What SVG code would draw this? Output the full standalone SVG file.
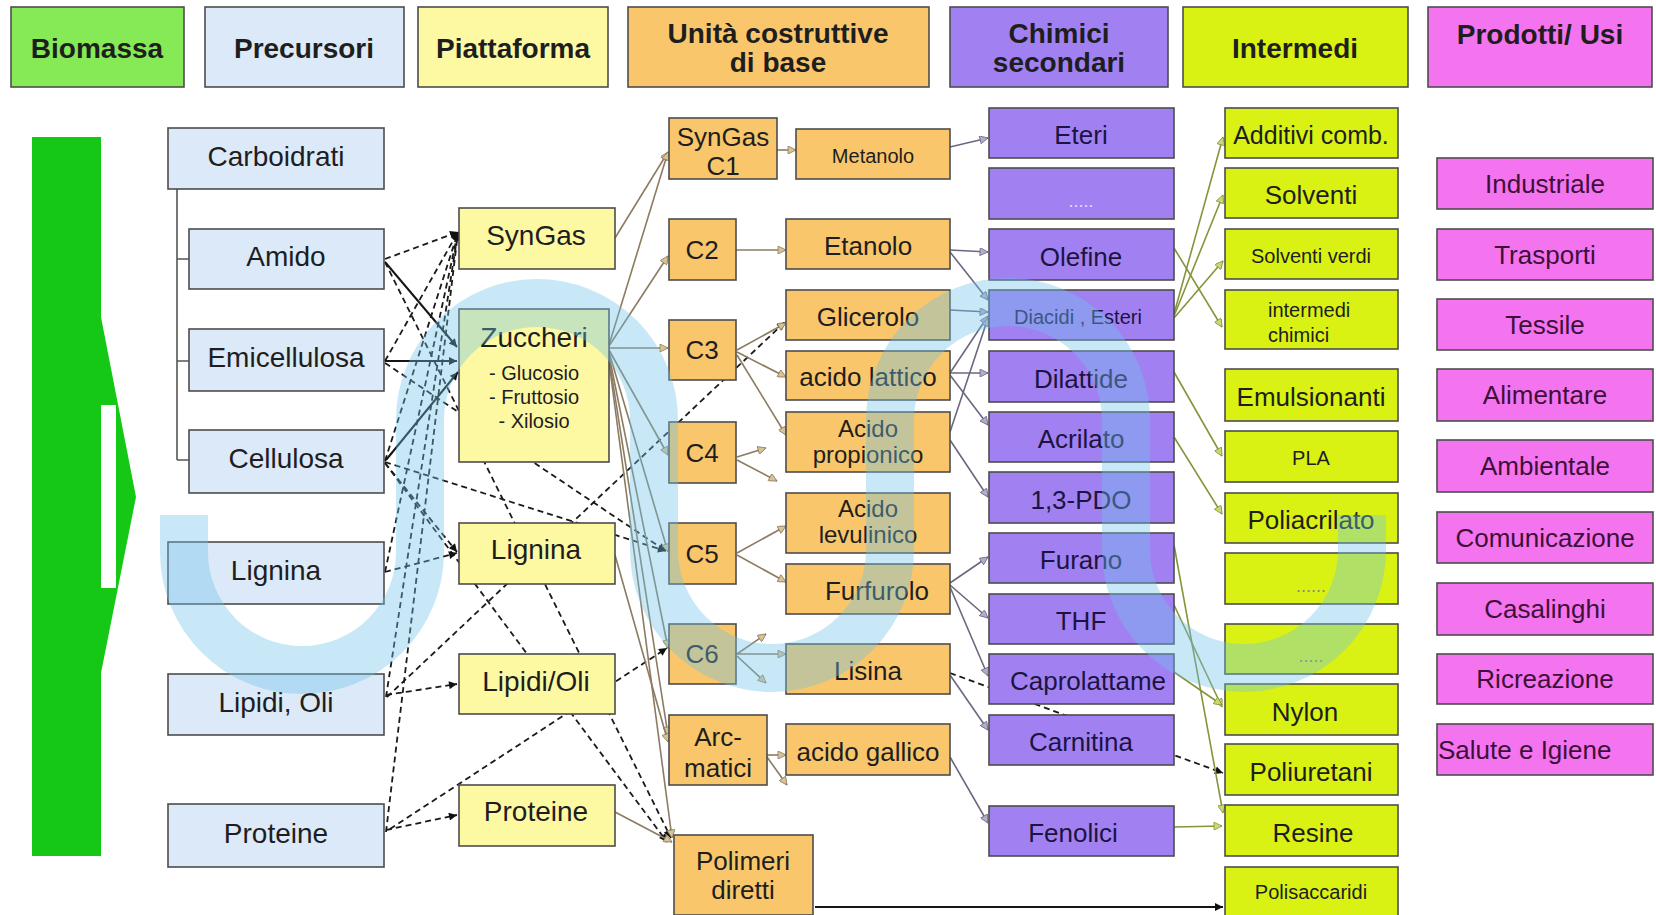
<svg xmlns="http://www.w3.org/2000/svg" width="1656" height="915" viewBox="0 0 1656 915">
<style>
  .bx { stroke: #4d4d4d; stroke-width: 1.6; }
  .hb { fill: #85ea56; }
  .pre { fill: #dce9f8; }
  .pla { fill: #fdf8a2; }
  .uni { fill: #f9c66b; }
  .chi { fill: #a181f2; }
  .int { fill: #d9f214; }
  .pro { fill: #f474f0; }
  text { font-family: "Liberation Sans", Arial, sans-serif; text-anchor: middle; fill: #1e1e1e; font-size: 26px; }
  .h { font-weight: bold; font-size: 28px; }
  .l { font-size: 28px; }
  .m { font-size: 24px; }
  .s { font-size: 20px; }
  .dots { font-size: 18px; fill: #8c8c6e; }
  .dotsp { font-size: 18px; fill: #e2dafa; }
  .tc { fill: #1c1440; }
  .tp { fill: #3e1038; }
  .k { stroke: #151515; stroke-width: 2; fill: none; marker-end: url(#mk); }
  .kd { stroke: #1a1a1a; stroke-width: 1.8; fill: none; stroke-dasharray: 6 4; marker-end: url(#mk); }
  .br { stroke: #8c7b60; stroke-width: 1.6; fill: none; marker-end: url(#mbr); }
  .pu { stroke: #6d6680; stroke-width: 1.6; fill: none; marker-end: url(#mpu); }
  .ol { stroke: #86943a; stroke-width: 1.6; fill: none; marker-end: url(#mol); }
  .wm { stroke: rgb(110,195,235); stroke-width: 48; fill: none; opacity: 0.38; }
</style>
<defs>
  <marker id="mk" viewBox="0 0 10 10" refX="10" refY="5" markerWidth="10" markerHeight="8" markerUnits="userSpaceOnUse" orient="auto">
    <path d="M0,0 L10,5 L0,10 z" fill="#111"/>
  </marker>
  <marker id="mbr" viewBox="0 0 10 10" refX="10" refY="5" markerWidth="10" markerHeight="8" markerUnits="userSpaceOnUse" orient="auto">
    <path d="M0,0 L10,5 L0,10 z" fill="#d9c394" stroke="#8c7b60" stroke-width="1"/>
  </marker>
  <marker id="mpu" viewBox="0 0 10 10" refX="10" refY="5" markerWidth="10" markerHeight="8" markerUnits="userSpaceOnUse" orient="auto">
    <path d="M0,0 L10,5 L0,10 z" fill="#b4accb" stroke="#6d6680" stroke-width="1"/>
  </marker>
  <marker id="mol" viewBox="0 0 10 10" refX="10" refY="5" markerWidth="10" markerHeight="8" markerUnits="userSpaceOnUse" orient="auto">
    <path d="M0,0 L10,5 L0,10 z" fill="#cbd872" stroke="#86943a" stroke-width="1"/>
  </marker>
</defs>
<rect width="1656" height="915" fill="#ffffff"/>

<!-- column headers -->
<g id="headers">
  <rect class="bx hb" x="11" y="7" width="173" height="80"/>
  <text class="h" x="97" y="58">Biomassa</text>
  <rect class="bx pre" x="205" y="7" width="199" height="80"/>
  <text class="h" x="304" y="58">Precursori</text>
  <rect class="bx pla" x="418" y="7" width="190" height="80"/>
  <text class="h" x="513" y="58">Piattaforma</text>
  <rect class="bx uni" x="628" y="7" width="301" height="80"/>
  <text class="h" x="778" y="43">Unità costruttive</text>
  <text class="h" x="778" y="72">di base</text>
  <rect class="bx chi" x="950" y="7" width="218" height="80"/>
  <text class="h" x="1059" y="43">Chimici</text>
  <text class="h" x="1059" y="72">secondari</text>
  <rect class="bx int" x="1183" y="7" width="225" height="80"/>
  <text class="h" x="1295" y="58">Intermedi</text>
  <rect class="bx pro" x="1428" y="7" width="224" height="80"/>
  <text class="h" x="1540" y="44">Prodotti/ Usi</text>
</g>

<!-- biomass flow arrow -->
<g id="biomassa-arrow">
  <path d="M32,137 L101,137 L101,317 L136,497 L101,673 L101,856 L32,856 Z" fill="#16c816"/>
  <rect x="101" y="405" width="15" height="183" fill="#ffffff"/>
</g>

<!-- connectors -->
<g id="connectors">
  <!-- precursor tree -->
  <path d="M177,189 V460 M177,259 H189 M177,361 H189 M177,460 H189" stroke="#555" stroke-width="1.6" fill="none"/>

  <!-- precursors to platforms (dashed) -->
  <path class="kd" d="M385,259 L458,232"/>
  <path class="kd" d="M385,361 L458,232"/>
  <path class="kd" d="M385,461 L458,232"/>
  <path class="kd" d="M385,572 L458,232"/>
  <path class="kd" d="M386,697 L458,232"/>
  <path class="kd" d="M386,832 L458,232"/>
  <path class="kd" d="M385,262 L671,838"/>
  <path class="kd" d="M385,463 L667,842"/>
  <path class="kd" d="M385,363 L666,551"/>
  <path class="kd" d="M385,462 L666,551"/>
  <path class="kd" d="M385,572 L457,553"/>
  <path class="kd" d="M386,695 L457,684"/>
  <path class="kd" d="M386,830 L457,815"/>
  <path class="kd" d="M387,697 L785,322"/>
  <path class="kd" d="M390,829 L667,648"/>
  <path class="kd" d="M385,463 L457,552"/>

  <!-- precursors to sugars (solid) -->
  <path class="k" d="M385,262 L457,347"/>
  <path class="k" d="M385,361 L457,361"/>
  <path class="k" d="M386,460 L458,372"/>

  <!-- platforms to building blocks -->
  <path class="br" d="M615,238 L668,152"/>
  <path class="br" d="M609,345 L668,152"/>
  <path class="br" d="M609,346 L668,256"/>
  <path class="br" d="M609,348 L668,348"/>
  <path class="br" d="M609,350 L668,455"/>
  <path class="br" d="M609,352 L668,552"/>
  <path class="br" d="M609,355 L668,648"/>
  <path class="br" d="M609,358 L668,735"/>
  <path class="br" d="M609,362 L672,838"/>
  <path class="br" d="M615,555 L668,742"/>
  <path class="br" d="M615,812 L672,842"/>

  <!-- building blocks to derivatives -->
  <path class="br" d="M777,150 L796,150"/>
  <path class="br" d="M736,250 L786,250"/>
  <path class="br" d="M737,350 L786,323"/>
  <path class="br" d="M737,352 L786,377"/>
  <path class="br" d="M737,355 L786,435"/>
  <path class="br" d="M737,457 L766,448"/>
  <path class="br" d="M737,460 L777,481"/>
  <path class="br" d="M737,553 L786,526"/>
  <path class="br" d="M737,555 L786,582"/>
  <path class="br" d="M737,654 L766,634"/>
  <path class="br" d="M737,654 L786,654"/>
  <path class="br" d="M737,656 L766,683"/>
  <path class="br" d="M767,755 L786,755"/>
  <path class="br" d="M767,757 L787,785"/>

  <!-- to secondary chemicals -->
  <path class="pu" d="M950,147 L988,138"/>
  <path class="pu" d="M950,250 L988,252"/>
  <path class="pu" d="M950,252 L988,300"/>
  <path class="pu" d="M950,310 L988,312"/>
  <path class="pu" d="M950,373 L988,316"/>
  <path class="pu" d="M950,373 L988,373"/>
  <path class="pu" d="M950,375 L988,425"/>
  <path class="pu" d="M950,432 L988,318"/>
  <path class="pu" d="M950,440 L988,497"/>
  <path class="pu" d="M950,583 L988,557"/>
  <path class="pu" d="M950,585 L988,618"/>
  <path class="pu" d="M950,587 L988,676"/>
  <path class="pu" d="M950,675 L988,730"/>
  <path class="pu" d="M950,757 L988,823"/>
  <path class="kd" d="M950,673 L1223,773"/>

  <!-- to intermediates -->
  <path class="ol" d="M1174,314 L1223,137"/>
  <path class="ol" d="M1174,316 L1223,195"/>
  <path class="ol" d="M1174,318 L1223,261"/>
  <path class="ol" d="M1174,248 L1222,327"/>
  <path class="ol" d="M1174,372 L1222,456"/>
  <path class="ol" d="M1174,437 L1222,514"/>
  <path class="ol" d="M1174,545 L1223,813"/>
  <path class="ol" d="M1174,605 L1222,707"/>
  <path class="ol" d="M1174,672 L1222,705"/>
  <path class="ol" d="M1174,827 L1222,826"/>
  <path class="k" d="M815,907 L1223,907"/>
</g>

<!-- precursors -->
<g id="carboidrati"><rect class="bx pre" x="168" y="128" width="216" height="61"/><text class="l" x="276" y="166">Carboidrati</text></g>
<g id="amido"><rect class="bx pre" x="189" y="229" width="195" height="60"/><text class="l" x="286" y="266">Amido</text></g>
<g id="emicellulosa"><rect class="bx pre" x="189" y="329" width="195" height="62"/><text class="l" x="286" y="367">Emicellulosa</text></g>
<g id="cellulosa"><rect class="bx pre" x="189" y="430" width="195" height="63"/><text class="l" x="286" y="468">Cellulosa</text></g>
<g id="lignina-pre"><rect class="bx pre" x="168" y="542" width="216" height="62"/><text class="l" x="276" y="580">Lignina</text></g>
<g id="lipidi-pre"><rect class="bx pre" x="168" y="674" width="216" height="61"/><text class="l" x="276" y="712">Lipidi, Oli</text></g>
<g id="proteine-pre"><rect class="bx pre" x="168" y="804" width="216" height="63"/><text class="l" x="276" y="843">Proteine</text></g>

<!-- platforms -->
<g id="syngas"><rect class="bx pla" x="459" y="208" width="156" height="61"/><text class="l" x="536" y="245">SynGas</text></g>
<g id="zuccheri"><rect class="bx pla" x="459" y="309" width="150" height="153"/>
  <text class="l" x="534" y="347">Zuccheri</text>
  <text class="s" x="534" y="380">- Glucosio</text>
  <text class="s" x="534" y="404">- Fruttosio</text>
  <text class="s" x="534" y="428">- Xilosio</text></g>
<g id="lignina"><rect class="bx pla" x="459" y="523" width="156" height="61"/><text class="l" x="536" y="559">Lignina</text></g>
<g id="lipidi-oli"><rect class="bx pla" x="459" y="654" width="156" height="60"/><text class="l" x="536" y="691">Lipidi/Oli</text></g>
<g id="proteine"><rect class="bx pla" x="459" y="785" width="156" height="61"/><text class="l" x="536" y="821">Proteine</text></g>

<!-- building blocks -->
<g id="syngas-c1"><rect class="bx uni" x="669" y="118" width="108" height="61"/><text x="723" y="146">SynGas</text><text x="723" y="175">C1</text></g>
<g id="c2"><rect class="bx uni" x="669" y="219" width="67" height="61"/><text x="702" y="259">C2</text></g>
<g id="c3"><rect class="bx uni" x="669" y="320" width="67" height="60"/><text x="702" y="359">C3</text></g>
<g id="c4"><rect class="bx uni" x="669" y="422" width="67" height="61"/><text x="702" y="462">C4</text></g>
<g id="c5"><rect class="bx uni" x="669" y="523" width="67" height="61"/><text x="702" y="563">C5</text></g>
<g id="c6"><rect class="bx uni" x="669" y="624" width="67" height="60"/><text x="702" y="663">C6</text></g>
<g id="aromatici"><rect class="bx uni" x="669" y="715" width="98" height="70"/><text x="718" y="746">Arc-</text><text x="718" y="777">matici</text></g>
<g id="polimeri-diretti"><rect class="bx uni" x="674" y="835" width="139" height="80"/><text x="743" y="870">Polimeri</text><text x="743" y="899">diretti</text></g>
<g id="metanolo"><rect class="bx uni" x="796" y="129" width="154" height="50"/><text class="s" x="873" y="163">Metanolo</text></g>
<g id="etanolo"><rect class="bx uni" x="786" y="219" width="164" height="50"/><text x="868" y="255">Etanolo</text></g>
<g id="glicerolo"><rect class="bx uni" x="786" y="290" width="164" height="50"/><text x="868" y="326">Glicerolo</text></g>
<g id="acido-lattico"><rect class="bx uni" x="786" y="351" width="164" height="49"/><text x="868" y="386">acido lattico</text></g>
<g id="acido-propionico"><rect class="bx uni" x="786" y="412" width="164" height="60"/><text class="m" x="868" y="437">Acido</text><text class="m" x="868" y="463">propionico</text></g>
<g id="acido-levulinico"><rect class="bx uni" x="786" y="493" width="164" height="60"/><text class="m" x="868" y="517">Acido</text><text class="m" x="868" y="543">levulinico</text></g>
<g id="furfurolo"><rect class="bx uni" x="786" y="564" width="164" height="50"/><text x="877" y="600">Furfurolo</text></g>
<g id="lisina"><rect class="bx uni" x="786" y="644" width="164" height="50"/><text x="868" y="680">Lisina</text></g>
<g id="acido-gallico"><rect class="bx uni" x="786" y="724" width="164" height="51"/><text x="868" y="761">acido gallico</text></g>

<!-- secondary chemicals -->
<g id="eteri"><rect class="bx chi" x="989" y="108" width="185" height="50"/><text class="tc" x="1081" y="144">Eteri</text></g>
<g id="chi-altro"><rect class="bx chi" x="989" y="168" width="185" height="51"/><text class="dotsp" x="1081" y="207">.....</text></g>
<g id="olefine"><rect class="bx chi" x="989" y="229" width="185" height="51"/><text class="tc" x="1081" y="266">Olefine</text></g>
<g id="diacidi"><rect class="bx chi" x="989" y="290" width="185" height="50"/><text class="s tc" x="1078" y="324">Diacidi , Esteri</text></g>
<g id="dilattide"><rect class="bx chi" x="989" y="351" width="185" height="51"/><text class="tc" x="1081" y="388">Dilattide</text></g>
<g id="acrilato"><rect class="bx chi" x="989" y="412" width="185" height="50"/><text class="tc" x="1081" y="448">Acrilato</text></g>
<g id="pdo"><rect class="bx chi" x="989" y="472" width="185" height="51"/><text class="tc" x="1081" y="509">1,3-PDO</text></g>
<g id="furano"><rect class="bx chi" x="989" y="533" width="185" height="50"/><text class="tc" x="1081" y="569">Furano</text></g>
<g id="thf"><rect class="bx chi" x="989" y="594" width="185" height="50"/><text class="tc" x="1081" y="630">THF</text></g>
<g id="caprolattame"><rect class="bx chi" x="989" y="654" width="185" height="50"/><text class="tc" x="1088" y="690">Caprolattame</text></g>
<g id="carnitina"><rect class="bx chi" x="989" y="715" width="185" height="50"/><text class="tc" x="1081" y="751">Carnitina</text></g>
<g id="fenolici"><rect class="bx chi" x="989" y="806" width="185" height="50"/><text class="tc" x="1073" y="842">Fenolici</text></g>

<!-- intermediates -->
<g id="additivi"><rect class="bx int" x="1225" y="108" width="173" height="50"/><text x="1311" y="144" style="font-size:25px">Additivi comb.</text></g>
<g id="solventi"><rect class="bx int" x="1225" y="168" width="173" height="50"/><text x="1311" y="204">Solventi</text></g>
<g id="solventi-verdi"><rect class="bx int" x="1225" y="229" width="173" height="50"/><text class="s" x="1311" y="263">Solventi verdi</text></g>
<g id="intermedi-chimici"><rect class="bx int" x="1225" y="290" width="173" height="59"/><text class="s" x="1268" y="317" style="text-anchor:start">intermedi</text><text class="s" x="1268" y="342" style="text-anchor:start">chimici</text></g>
<g id="emulsionanti"><rect class="bx int" x="1225" y="369" width="173" height="52"/><text x="1311" y="406">Emulsionanti</text></g>
<g id="pla"><rect class="bx int" x="1225" y="431" width="173" height="51"/><text class="s" x="1311" y="465">PLA</text></g>
<g id="poliacrilato"><rect class="bx int" x="1225" y="493" width="173" height="50"/><text x="1311" y="529">Poliacrilato</text></g>
<g id="int-altro-1"><rect class="bx int" x="1225" y="553" width="173" height="51"/><text class="dots" x="1311" y="592">......</text></g>
<g id="int-altro-2"><rect class="bx int" x="1225" y="624" width="173" height="50"/><text class="dots" x="1311" y="662">.....</text></g>
<g id="nylon"><rect class="bx int" x="1225" y="684" width="173" height="51"/><text x="1305" y="721">Nylon</text></g>
<g id="poliuretani"><rect class="bx int" x="1225" y="744" width="173" height="51"/><text x="1311" y="781">Poliuretani</text></g>
<g id="resine"><rect class="bx int" x="1225" y="805" width="173" height="51"/><text x="1313" y="842">Resine</text></g>
<g id="polisaccaridi"><rect class="bx int" x="1225" y="867" width="173" height="52"/><text class="s" x="1311" y="899">Polisaccaridi</text></g>

<!-- products / uses -->
<g id="industriale"><rect class="bx pro" x="1437" y="158" width="216" height="51"/><text class="tp" x="1545" y="193">Industriale</text></g>
<g id="trasporti"><rect class="bx pro" x="1437" y="229" width="216" height="51"/><text class="tp" x="1545" y="264">Trasporti</text></g>
<g id="tessile"><rect class="bx pro" x="1437" y="299" width="216" height="51"/><text class="tp" x="1545" y="334">Tessile</text></g>
<g id="alimentare"><rect class="bx pro" x="1437" y="369" width="216" height="52"/><text class="tp" x="1545" y="404">Alimentare</text></g>
<g id="ambientale"><rect class="bx pro" x="1437" y="440" width="216" height="52"/><text class="tp" x="1545" y="475">Ambientale</text></g>
<g id="comunicazione"><rect class="bx pro" x="1437" y="512" width="216" height="51"/><text class="tp" x="1545" y="547">Comunicazione</text></g>
<g id="casalinghi"><rect class="bx pro" x="1437" y="583" width="216" height="52"/><text class="tp" x="1545" y="618">Casalinghi</text></g>
<g id="ricreazione"><rect class="bx pro" x="1437" y="654" width="216" height="50"/><text class="tp" x="1545" y="688">Ricreazione</text></g>
<g id="salute"><rect class="bx pro" x="1437" y="724" width="216" height="51"/><text class="tp" x="1438" y="759" style="text-anchor:start">Salute e Igiene</text></g>

<!-- translucent wave band over the chart -->
<path class="wm" d="M184,515 L184,552 A118,118 0 0 0 420,552 L420,420 A117,117 0 0 1 654,420 L654,550 A118,118 0 0 0 890,550 L890,420 A118,118 0 0 1 1126,420 L1126,550 A118,118 0 0 0 1362,550 L1362,515"/>
</svg>
